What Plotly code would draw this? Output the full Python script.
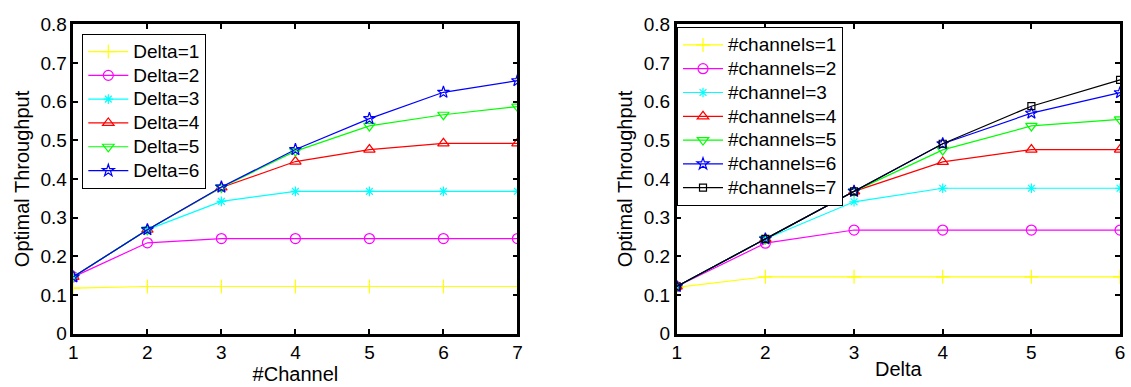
import plotly.graph_objects as go

channels = [1, 2, 3, 4, 5, 6, 7]
left_names = ["Delta=1", "Delta=2", "Delta=3", "Delta=4", "Delta=5", "Delta=6"]
left_vals = {
    "Delta=1": [0.118, 0.122, 0.122, 0.122, 0.122, 0.122, 0.122],
    "Delta=2": [0.147, 0.235, 0.246, 0.246, 0.246, 0.246, 0.246],
    "Delta=3": [0.147, 0.269, 0.342, 0.368, 0.368, 0.368, 0.368],
    "Delta=4": [0.147, 0.269, 0.378, 0.445, 0.476, 0.492, 0.492],
    "Delta=5": [0.147, 0.269, 0.378, 0.472, 0.537, 0.566, 0.587],
    "Delta=6": [0.147, 0.269, 0.379, 0.476, 0.556, 0.624, 0.654],
}

deltas = [1, 2, 3, 4, 5, 6]
right_names = ["#channels=1", "#channels=2", "#channel=3", "#channels=4",
               "#channels=5", "#channels=6", "#channels=7"]
right_vals = {
    "#channels=1": [0.120, 0.147, 0.147, 0.147, 0.147, 0.147],
    "#channels=2": [0.122, 0.234, 0.268, 0.268, 0.268, 0.268],
    "#channel=3": [0.122, 0.245, 0.341, 0.376, 0.376, 0.376],
    "#channels=4": [0.122, 0.245, 0.368, 0.444, 0.476, 0.476],
    "#channels=5": [0.122, 0.245, 0.368, 0.475, 0.537, 0.554],
    "#channels=6": [0.122, 0.245, 0.368, 0.491, 0.570, 0.623],
    "#channels=7": [0.122, 0.245, 0.368, 0.491, 0.588, 0.656],
}
y_ticks = [0, 0.1, 0.2, 0.3, 0.4, 0.5, 0.6, 0.7, 0.8]
y_ticktext = ["0", "0.1", "0.2", "0.3", "0.4", "0.5", "0.6", "0.7", "0.8"]

colors = ["#FFFF00", "#FF00FF", "#00FFFF", "#FF0000", "#00FF00", "#0000FF", "#000000"]
symbols = ["cross-thin-open", "circle-open", "asterisk-open", "triangle-up-open",
           "triangle-down-open", "star-open", "square-open"]
sizes = [10, 10, 8, 10, 10, 9, 7]

FONT = "Liberation Sans"
LEG_TXT = "<span style='font-size:19px'>{}</span>"
fig = go.Figure()

for i, name in enumerate(left_names):
    fig.add_trace(go.Scatter(
        x=channels, y=left_vals[name], name=LEG_TXT.format(name), mode="lines+markers",
        line=dict(color=colors[i], width=1.2),
        marker=dict(symbol=symbols[i], size=sizes[i], color=colors[i],
                    line=dict(color=colors[i], width=1.2)),
        xaxis="x", yaxis="y", legend="legend"))

for i, name in enumerate(right_names):
    fig.add_trace(go.Scatter(
        x=deltas, y=right_vals[name], name=LEG_TXT.format(name), mode="lines+markers",
        line=dict(color=colors[i], width=1.2),
        marker=dict(symbol=symbols[i], size=sizes[i], color=colors[i],
                    line=dict(color=colors[i], width=1.2)),
        xaxis="x2", yaxis="y2", legend="legend2"))

W, H = 1131, 387
ydom = [(H - 342.3) / H, (H - 15) / H]

axis_common = dict(
    showline=True, linecolor="black", linewidth=2.5, mirror="allticks",
    ticks="inside", ticklen=5, tickwidth=1.5, tickcolor="black",
    showgrid=False, zeroline=False,
    tickfont=dict(family=FONT, size=19, color="black"),
)
title_font = dict(family=FONT, size=20, color="black")

fig.update_layout(
    width=W, height=H,
    margin=dict(l=0, r=0, t=0, b=0),
    paper_bgcolor="white", plot_bgcolor="white",
    font=dict(family=FONT, color="black"),
    xaxis=dict(domain=[69 / W, 517 / W], range=[1, 7], tickvals=channels,
               title=dict(text="#Channel", font=title_font, standoff=0),
               anchor="y", **axis_common),
    yaxis=dict(domain=ydom, range=[0, 0.8], tickvals=y_ticks, ticktext=y_ticktext,
               title=dict(text="Optimal Throughput", font=title_font, standoff=6),
               anchor="x", **axis_common),
    xaxis2=dict(domain=[677.7 / W, 1125 / W], range=[1, 6], tickvals=deltas,
                title=dict(text="Delta", font=title_font, standoff=0),
                anchor="y2", **axis_common),
    yaxis2=dict(domain=ydom, range=[0, 0.8], tickvals=y_ticks, ticktext=y_ticktext,
                title=dict(text="Optimal Throughput", font=title_font, standoff=6),
                anchor="x2", **axis_common),
    legend=dict(x=78 / W, y=(H - 25) / H, xanchor="left", yanchor="top",
                bgcolor="white", bordercolor="black", borderwidth=1,
                font=dict(family=FONT, size=16, color="black"),
                tracegroupgap=0, itemwidth=40),
    legend2=dict(x=678 / W, y=(H - 18) / H, xanchor="left", yanchor="top",
                 bgcolor="white", bordercolor="black", borderwidth=1,
                 font=dict(family=FONT, size=16, color="black"),
                 tracegroupgap=0, itemwidth=40),
)

fig.write_html("out.html")
